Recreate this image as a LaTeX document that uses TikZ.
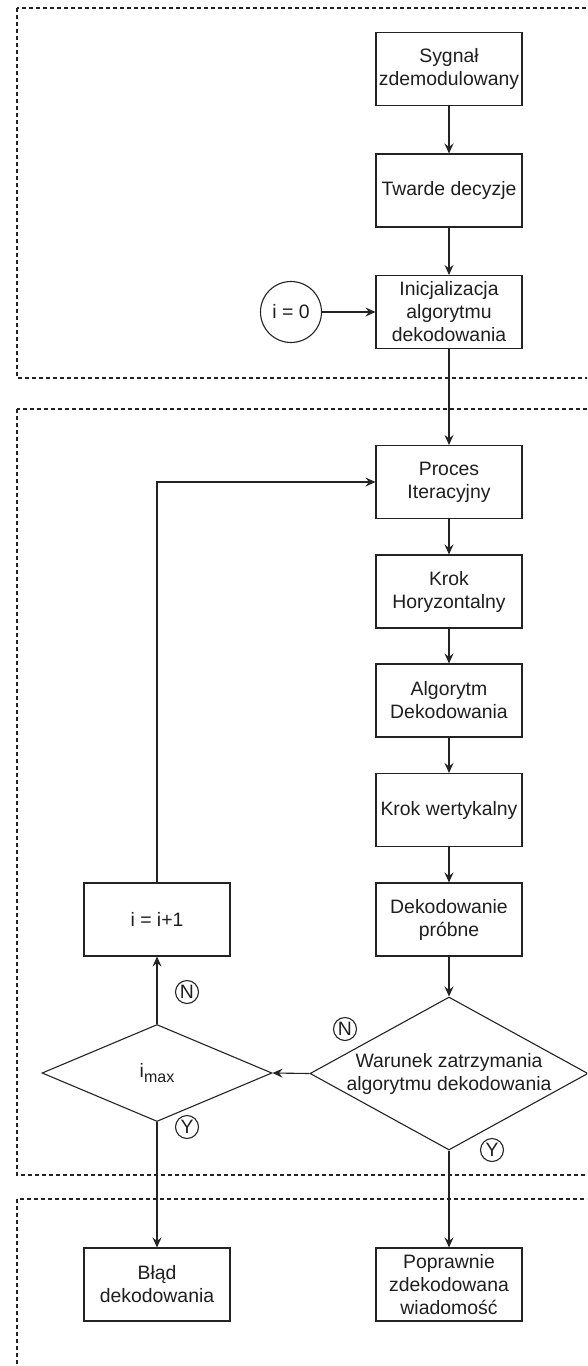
\documentclass[tikz,border=0pt]{standalone}
\usepackage{fontspec}
\setmainfont{Liberation Sans}
\usetikzlibrary{arrows.meta,positioning,shapes.geometric}
\definecolor{myline}{RGB}{35,35,35}
\definecolor{mytext}{RGB}{30,30,30}

\begin{document}
\begin{tikzpicture}[x=1pt, y=-1pt, font=\fontsize{19.4}{23}\selectfont,
  line width=1.1pt, >={Stealth[length=10pt,width=9pt,inset=3.5pt]},
  stepbox/.style={draw=myline, text=mytext, minimum width=146pt,
                  minimum height=73pt, align=center, inner sep=2pt},
  decision/.style={draw=myline, diamond, inner sep=0pt},
  tag/.style={draw=myline, circle, inner sep=0pt, minimum size=23pt, text=mytext},
  frame/.style={draw=myline, dash pattern=on 4pt off 3pt}]
  \useasboundingbox (0,0) rectangle (587,1366);
  \clip (0,0) rectangle (587,1366);
  % Dashed frames
  \draw[frame] (17,8) rectangle (600,378);
  \draw[frame] (17,409) rectangle (600,1175);
  \draw[frame] (17,1199) rectangle (600,1400);
  % Main column
  \foreach \n/\y/\t in {sygnal/69/{Sygnał\\zdemodulowany},
                        twarde/190.5/{Twarde decyzje},
                        inicjal/312/{Inicjalizacja\\algorytmu\\dekodowania},
                        proces/482/{Proces\\Iteracyjny},
                        krokh/591.5/{Krok\\Horyzontalny},
                        algorytm/700.5/{Algorytm\\Dekodowania},
                        krokw/810/{Krok wertykalny},
                        probne/919.5/{Dekodowanie\\próbne},
                        poprawnie/1284.5/{Poprawnie\\zdekodowana\\wiadomość}}{
    \node[stepbox] (\n) at (449,\y) {\t};
  }
  \node[draw=myline, circle, minimum size=61pt, inner sep=0pt, text=mytext] (start) at (291,312) {i = 0};
  \node[decision, minimum width=278pt, minimum height=153pt,
        label={[align=center, text=mytext]center:Warunek zatrzymania\\algorytmu dekodowania}] (warunek) at (449,1073.5) {};
  % Left column
  \node[decision, minimum width=230pt, minimum height=97pt,
        label={[text=mytext]center:i\raisebox{-5pt}{\fontsize{16}{19}\selectfont max}}] (imax) at (157,1073) {};
  \node[stepbox] (inc) at (157,919.5) {i = i+1};
  \node[stepbox] (blad) at (157,1284.5) {Błąd\\dekodowania};
  % Arrows
  \foreach \a/\b in {sygnal/twarde, twarde/inicjal, inicjal/proces, proces/krokh,
                     krokh/algorytm, algorytm/krokw, krokw/probne, probne/warunek}
    \draw[->, myline] (\a) -- (\b);
  \draw[->, myline] (start) -- (inicjal);
  \draw[->, myline] (warunek.west) -- (imax.east);
  \draw[->, myline] (imax.north) -- (inc.south);
  \draw[->, myline] (inc.north) |- (proces.west);
  \draw[->, myline] (imax.south) -- (blad.north);
  \draw[->, myline] (warunek.south) -- (poprawnie.north);
  % Decision tags
  \node[tag] (n1) at (187,992) {N};
  \node[tag] (n2) at (345,1029) {N};
  \node[tag] (y1) at (187,1127) {Y};
  \node[tag] (y2) at (492,1150) {Y};
\end{tikzpicture}
\end{document}
